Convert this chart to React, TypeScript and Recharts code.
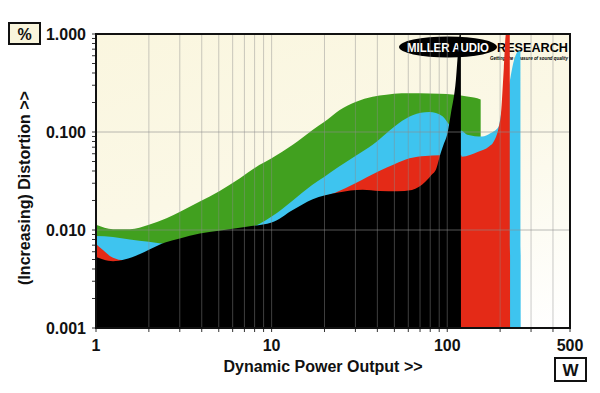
import React from 'react';
import { ComposedChart, Area, XAxis, YAxis, ReferenceLine } from 'recharts';

// ---- tick values ----
const xMajorTicks = [1, 10, 100, 500];
const xMinorTicks = [2, 3, 4, 5, 6, 7, 8, 9, 20, 30, 40, 50, 60, 70, 80, 90, 200, 300, 400];
const yMajorTicks = [0.001, 0.01, 0.1, 1];
const yMinorTicks = [
  0.002, 0.003, 0.004, 0.005, 0.006, 0.007, 0.008, 0.009,
  0.02, 0.03, 0.04, 0.05, 0.06, 0.07, 0.08, 0.09,
  0.2, 0.3, 0.4, 0.5, 0.6, 0.7, 0.8, 0.9,
];
const xGridValues = [2, 3, 4, 5, 6, 7, 8, 9, 10, 20, 30, 40, 50, 60, 70, 80, 90, 100, 200, 300, 400];
const yGridValues = [0.01, 0.1];

// ---- series (power W, distortion %) ----
const greenPower = [1, 1.25, 1.56, 2.0, 2.52, 3.03, 3.9, 5.06, 6.6, 8.5, 10, 13.2, 17.1, 20, 24.3, 30.3, 37.6, 45, 55, 70, 90, 110, 130, 155, 155.5];
const greenDist = [0.0113, 0.0102, 0.0102, 0.0113, 0.0132, 0.0154, 0.0195, 0.025, 0.0337, 0.046, 0.054, 0.074, 0.105, 0.127, 0.167, 0.204, 0.229, 0.24, 0.248, 0.248, 0.245, 0.24, 0.23, 0.215, 0.001];

const bluePower = [1, 1.25, 1.56, 2.0, 2.4, 3, 5, 7.5, 8.5, 10, 13.2, 17, 20, 24, 30, 37.6, 41, 53, 63.5, 79, 94, 103, 110, 121, 130, 158, 176, 196, 202, 222, 240, 252, 261, 262];
const blueDist = [0.0087, 0.0085, 0.008, 0.0076, 0.0073, 0.0078, 0.0093, 0.0105, 0.0115, 0.0137, 0.02, 0.0288, 0.035, 0.044, 0.057, 0.074, 0.084, 0.123, 0.148, 0.16, 0.145, 0.118, 0.105, 0.103, 0.094, 0.09, 0.097, 0.113, 0.148, 0.27, 0.54, 0.66, 0.67, 0.001];

const redPower = [1, 1.1, 1.25, 1.45, 2, 5, 10, 17, 23, 30, 41, 50, 61, 75, 90, 100, 120, 121, 150, 173, 184, 196, 202, 210, 216, 227, 228];
const redDist = [0.0072, 0.0062, 0.0052, 0.0049, 0.006, 0.0095, 0.0115, 0.02, 0.024, 0.03, 0.04, 0.047, 0.054, 0.057, 0.058, 0.059, 0.058, 0.056, 0.063, 0.071, 0.08, 0.11, 0.15, 0.45, 1.0, 1.0, 0.001];

const blackPower = [1, 1.1, 1.25, 1.45, 1.78, 2.0, 2.5, 3.0, 3.9, 5.0, 7.2, 10, 13.2, 17, 24, 33, 41, 52, 63, 75, 82, 86, 91.5, 96, 100, 105, 112, 115.5, 118, 119.6, 119.7];
const blackDist = [0.0053, 0.005, 0.0048, 0.005, 0.0057, 0.0063, 0.0075, 0.0082, 0.0092, 0.0098, 0.0108, 0.0119, 0.016, 0.0205, 0.0242, 0.0258, 0.025, 0.0248, 0.0256, 0.031, 0.037, 0.041, 0.06, 0.077, 0.095, 0.156, 0.34, 0.69, 1.0, 1.0, 0.001];

const zip = (p: number[], d: number[]) => p.map((w, i) => ({ w, d: d[i] }));
const greenData = zip(greenPower, greenDist);
const blueData = zip(bluePower, blueDist);
const redData = zip(redPower, redDist);
const blackData = zip(blackPower, blackDist);

const FONT = '"Liberation Sans", Arial, sans-serif';

const XTick = (props: any) => {
  const { x, y, payload } = props;
  if (!xMajorTicks.includes(payload.value)) return <g />;
  return (
    <text x={x} y={y} dy={13} textAnchor="middle" fontFamily={FONT} fontWeight="bold" fontSize={16} fill="#111">
      {payload.value}
    </text>
  );
};

const YTick = (props: any) => {
  const { x, y, payload } = props;
  if (!yMajorTicks.includes(payload.value)) return <g />;
  return (
    <text x={x} y={y} dy={6} textAnchor="end" fontFamily={FONT} fontWeight="bold" fontSize={16} fill="#111">
      {Number(payload.value).toFixed(3)}
    </text>
  );
};

export default function App() {
  return (
    <div style={{ position: 'absolute', left: 0, top: 0, width: 600, height: 393, background: '#fff', overflow: 'hidden' }}>
      <div
        style={{
          position: 'absolute', left: 96, top: 34, width: 474, height: 294,
          background: 'linear-gradient(165deg, #faf6df 0%, #fbf8e6 45%, #fdfcf4 75%, #ffffff 100%)',
        }}
      />
      <svg width={600} height={393} style={{ position: 'absolute', left: 0, top: 0 }}>
        <ellipse cx={448} cy={47} rx={49} ry={10.5} fill="#000" />
        <text x={407} y={51.5} fontFamily={FONT} fontWeight="bold" fontSize={12} fill="#fff" textLength={82} lengthAdjust="spacingAndGlyphs">MILLER AUDIO</text>
        <text x={497} y={52} fontFamily={FONT} fontWeight="bold" fontSize={13} fill="#000" textLength={71} lengthAdjust="spacingAndGlyphs">RESEARCH</text>
        <text x={490} y={60} fontFamily={FONT} fontWeight="bold" fontStyle="italic" fontSize={5.5} fill="#000" textLength={78} lengthAdjust="spacingAndGlyphs">Getting the measure of sound quality</text>
      </svg>
      <div style={{ position: 'absolute', left: 0, top: 0 }}>
        <ComposedChart width={600} height={393} margin={{ top: 34, right: 30, bottom: 0, left: 0 }}>
          <XAxis
            dataKey="w"
            type="number"
            scale="log"
            domain={[1, 500]}
            allowDataOverflow
            ticks={[...xMajorTicks, ...xMinorTicks]}
            interval={0}
            tick={<XTick />}
            tickSize={4}
            tickMargin={6}
            tickLine={{ stroke: '#333' }}
            axisLine={false}
            height={65}
          />
          <YAxis
            type="number"
            scale="log"
            domain={[0.001, 1]}
            allowDataOverflow
            ticks={[...yMajorTicks, ...yMinorTicks]}
            interval={0}
            tick={<YTick />}
            tickSize={4}
            tickMargin={6}
            tickLine={{ stroke: '#333' }}
            axisLine={false}
            width={96}
          />
          <Area data={greenData} dataKey="d" type="monotone" stroke="none" fill="#41a01f" fillOpacity={1} baseValue={0.001} isAnimationActive={false} dot={false} activeDot={false} />
          <Area data={blueData} dataKey="d" type="monotone" stroke="none" fill="#3ec4ef" fillOpacity={1} baseValue={0.001} isAnimationActive={false} dot={false} activeDot={false} />
          <Area data={redData} dataKey="d" type="monotone" stroke="none" fill="#e42a17" fillOpacity={1} baseValue={0.001} isAnimationActive={false} dot={false} activeDot={false} />
          <Area data={blackData} dataKey="d" type="monotone" stroke="none" fill="#000000" fillOpacity={1} baseValue={0.001} isAnimationActive={false} dot={false} activeDot={false} />
          {xGridValues.map((v) => (
            <ReferenceLine key={'x' + v} x={v} stroke="#8c8c8c" strokeOpacity={0.45} strokeWidth={1} />
          ))}
          {yGridValues.map((v) => (
            <ReferenceLine key={'y' + v} y={v} stroke="#8c8c8c" strokeOpacity={0.6} strokeWidth={1} />
          ))}
        </ComposedChart>
      </div>
      <svg width={600} height={393} style={{ position: 'absolute', left: 0, top: 0, pointerEvents: 'none' }}>
        <rect x={96} y={34} width={474} height={294} fill="none" stroke="#111" strokeWidth={2} />
        <rect x={9} y={23} width={31} height={21} fill="#f9f5dc" stroke="#111" strokeWidth={2} />
        <text x={24.5} y={39.5} textAnchor="middle" fontFamily={FONT} fontWeight="bold" fontSize={16} fill="#111">%</text>
        <rect x={555} y={358} width={31} height={23} fill="#fff" stroke="#111" strokeWidth={2} />
        <text x={570.5} y={375.5} textAnchor="middle" fontFamily={FONT} fontWeight="bold" fontSize={17} fill="#111">W</text>
        <text x={323} y={372} textAnchor="middle" fontFamily={FONT} fontWeight="bold" fontSize={16} fill="#111">Dynamic Power Output &gt;&gt;</text>
        <text x={0} y={0} transform="translate(30,188) rotate(-90)" textAnchor="middle" fontFamily={FONT} fontWeight="bold" fontSize={16} fill="#111">(Increasing) Distortion &gt;&gt;</text>
      </svg>
    </div>
  );
}
